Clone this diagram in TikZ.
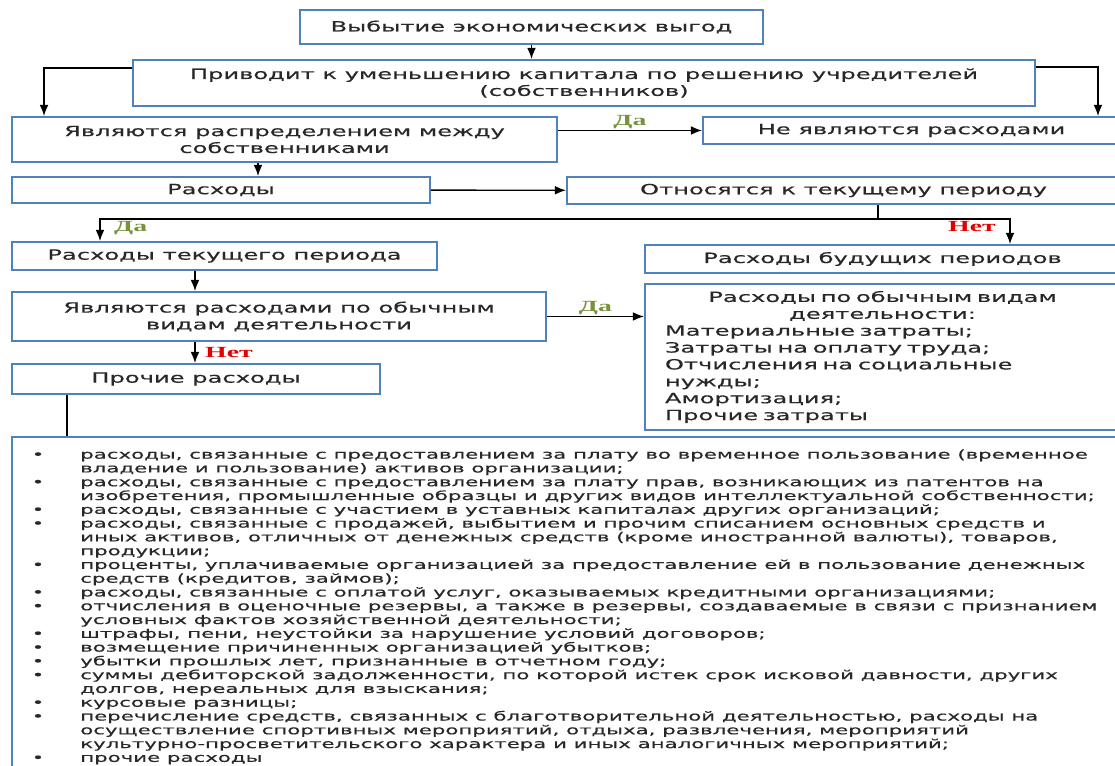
\documentclass[tikz,border=0pt]{standalone}
\usepackage{fontspec}
\setmainfont{DejaVu Sans}[FakeStretch=1.72, FakeBold=0.4]
\newfontfamily\answerfont{Liberation Serif}[FakeStretch=1.8]
\usepackage{xcolor}
\usetikzlibrary{arrows.meta, positioning}
\definecolor{boxblue}{RGB}{79,129,189}
\definecolor{txtgray}{RGB}{40,40,40}
\definecolor{yesgreen}{RGB}{118,146,60}
\definecolor{nored}{RGB}{225,0,0}
\newcommand{\bul}{\llap{\textbullet\hspace{0.9cm}}}

\begin{document}
\begin{tikzpicture}[
        x=0.025cm, y=-0.025cm,
        box/.style={rectangle, draw=boxblue, line width=1.3pt, fill=white,
                    align=center, text=txtgray, inner sep=2pt,
                    font=\fontsize{10}{12}\selectfont},
        arrow/.style={-{Latex[length=2.8mm, width=2.2mm]}, line width=1pt},
        link/.style={line width=1pt},
        yeslabel/.style={text=yesgreen, inner sep=1pt,
                         font=\answerfont\bfseries\fontsize{11}{12}\selectfont},
        nolabel/.style={text=nored, inner sep=1pt,
                        font=\answerfont\bfseries\fontsize{11}{12}\selectfont}
      ]
      \clip (0,0) rectangle (1115,766);

      \node[box, minimum width=11.575cm, minimum height=0.85cm] (top) at (531.5,27)
        {Выбытие экономических выгод};
      \node[box, minimum width=22.55cm, minimum height=1.15cm] (decr) at (584,83)
        {Приводит к уменьшению капитала по решению учредителей\\(собственников)};
      \node[box, minimum width=13.625cm, minimum height=1.125cm] (distr) at (284.5,139.5)
        {Являются распределением между\\собственниками};
      \node[box, minimum width=10.425cm, minimum height=0.675cm] (notexp) at (911.5,130.5)
        {Не являются расходами};
      \node[box, minimum width=10.45cm, minimum height=0.65cm] (exp) at (221,190)
        {Расходы};
      \node[box, minimum width=13.825cm, minimum height=0.675cm] (period) at (843.5,190.5)
        {Относятся к текущему периоду};
      \node[box, minimum width=10.625cm, minimum height=0.7cm] (curexp) at (224.5,256)
        {Расходы текущего периода};
      \node[box, minimum width=11.875cm, minimum height=0.7cm] (future) at (882.5,259)
        {Расходы будущих периодов};
      \node[box, minimum width=13.35cm, minimum height=1.225cm] (ordq) at (279,316.5)
        {Являются расходами по обычным\\видам деятельности};
      \node[box, minimum width=11.875cm, minimum height=3.65cm, text width=10.875cm,
            align=left, inner sep=0pt] (ord) at (882.5,357)
        {\makebox[\hsize]{Расходы по обычным видам}\\
         \makebox[\hsize]{деятельности:}\\
         Материальные затраты;\\
         Затраты на оплату труда;\\
         Отчисления на социальные\\
         нужды;\\
         Амортизация;\\
         Прочие затраты};
      \node[box, minimum width=9.2cm, minimum height=0.75cm] (other) at (196,379)
        {Прочие расходы};
      \node[box, minimum width=27.95cm, minimum height=9.075cm] (listbox) at (571,618.5) {};
      \node[anchor=north west, align=left, inner sep=0pt, text=txtgray,
            font=\fontsize{8.8}{9.8}\selectfont] (items) at (80,449)
        {\bul расходы, связанные с предоставлением за плату во временное пользование (временное\\
         владение и пользование) активов организации;\\
         \bul расходы, связанные с предоставлением за плату прав, возникающих из патентов на\\
         изобретения, промышленные образцы и других видов интеллектуальной собственности;\\
         \bul расходы, связанные с участием в уставных капиталах других организаций;\\
         \bul расходы, связанные с продажей, выбытием и прочим списанием основных средств и\\
         иных активов, отличных от денежных средств (кроме иностранной валюты), товаров,\\
         продукции;\\
         \bul проценты, уплачиваемые организацией за предоставление ей в пользование денежных\\
         средств (кредитов, займов);\\
         \bul расходы, связанные с оплатой услуг, оказываемых кредитными организациями;\\
         \bul отчисления в оценочные резервы, а также в резервы, создаваемые в связи с признанием\\
         условных фактов хозяйственной деятельности;\\
         \bul штрафы, пени, неустойки за нарушение условий договоров;\\
         \bul возмещение причиненных организацией убытков;\\
         \bul убытки прошлых лет, признанные в отчетном году;\\
         \bul суммы дебиторской задолженности, по которой истек срок исковой давности, других\\
         долгов, нереальных для взыскания;\\
         \bul курсовые разницы;\\
         \bul перечисление средств, связанных с благотворительной деятельностью, расходы на\\
         осуществление спортивных мероприятий, отдыха, развлечения, мероприятий\\
         культурно-просветительского характера и иных аналогичных мероприятий;\\
         \bul прочие расходы};

      % connectors
      \draw[arrow] (top.south) -- (top.south |- decr.north);
      \draw[arrow] ([yshift=0.375cm]decr.west) -| ([xshift=0.825cm]distr.north west);
      \draw[arrow] ([yshift=0.4cm]decr.east) -| ([xshift=-0.575cm]notexp.north east);
      \draw[arrow] (distr.east |- notexp.west) -- node[yeslabel, above] {Да} (notexp.west);
      \draw[arrow] ([xshift=-0.6625cm]distr.south) coordinate (d1) -- (d1 |- exp.north);
      \draw[arrow] (exp) -- (period);

      \coordinate (split) at (878,219);
      \coordinate (yes) at (100,219);
      \coordinate (no) at (1010,219);
      \draw[link] (split |- period.south) -- (split);
      \draw[arrow] (split) -- (yes) node[yeslabel, below right, xshift=0.3cm] {Да}
        -- (yes |- curexp.north);
      \draw[arrow] (split) -- (no) node[nolabel, below left, xshift=-0.3cm] {Нет}
        -- (no |- future.north);

      \draw[arrow] ([xshift=-0.7375cm]curexp.south) coordinate (c1) -- (c1 |- ordq.north);
      \draw[arrow] (ordq.east) -- node[yeslabel, above] {Да} (ordq.east -| ord.west);
      \draw[arrow] ([xshift=-2.1cm]ordq.south) coordinate (o1)
        -- node[nolabel, right, xshift=0.2cm] {Нет} (o1 |- other.north);
      \draw[link] ([xshift=-3.225cm]other.south) coordinate (p1) -- (p1 |- listbox.north);
    \end{tikzpicture}
\end{document}
